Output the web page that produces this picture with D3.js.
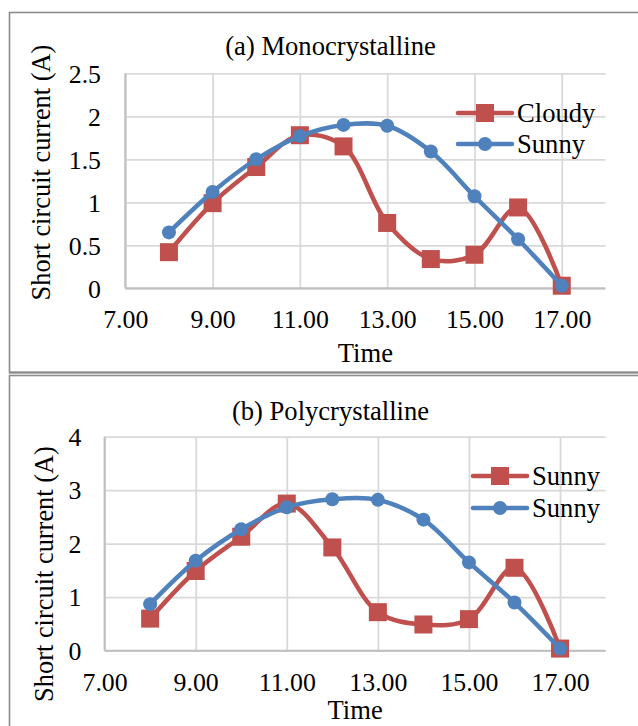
<!DOCTYPE html>
<html>
<head>
<meta charset="utf-8">
<script src="https://cdn.jsdelivr.net/npm/d3@7"></script>
<style>
  html, body { margin: 0; padding: 0; background: #fff; }
  svg { display: block; }
</style>
</head>
<body>
<div id="viewportContainer"></div>
<script>
/* --- データ --- */
const hours = [8, 9, 10, 11, 12, 13, 14, 15, 16, 17];

const monoCloudy = [0.42, 0.99, 1.41, 1.78, 1.65, 0.76, 0.34, 0.39, 0.94, 0.03];
const monoSunny  = [0.65, 1.12, 1.50, 1.77, 1.90, 1.89, 1.59, 1.07, 0.57, 0.03];

const polyRed  = [0.60, 1.49, 2.13, 2.75, 1.93, 0.72, 0.49, 0.59, 1.55, 0.04];
const polyBlue = [0.87, 1.68, 2.27, 2.68, 2.83, 2.82, 2.45, 1.65, 0.90, 0.04];

const xTicks = [7, 9, 11, 13, 15, 17];
const xMax = 18;
const monoYTicks = [0, 0.5, 1, 1.5, 2, 2.5];
const polyYTicks = [0, 1, 2, 3, 4];

const monoLegend = ["Cloudy", "Sunny"];
const polyLegend = ["Sunny", "Sunny"];

/* --- ビューポート --- */
const viewport = {width: 638, height: 726};
const red = "#C0504D", blue = "#4F81BD";
const serif = "'Liberation Serif', 'Times New Roman', serif";

const panels = [
  {
    title: "(a) Monocrystalline",
    border: {y: 12, h: 360},
    plot: {x0: 125.3, x1: 605.4, y0: 288.3, y1: 73.3},
    yTicks: monoYTicks, yLabelRight: 101, yTitleX: 50, yTitleY: 172.5,
    titleY: 55, xLabelY: 328, timeY: 362,
    legendX: 458, legendY: [113, 144], legend: monoLegend,
    series: [monoCloudy, monoSunny]
  },
  {
    title: "(b) Polycrystalline",
    border: {y: 375, h: 400},
    plot: {x0: 104.6, x1: 605.6, y0: 650.7, y1: 436.7},
    yTicks: polyYTicks, yLabelRight: 81.5, yTitleX: 53, yTitleY: 574,
    titleY: 420, xLabelY: 691.5, timeY: 719,
    legendX: 473, legendY: [476, 508], legend: polyLegend,
    series: [polyRed, polyBlue]
  }
];

const svg = d3.select("#viewportContainer").append("svg")
  .attr("width", viewport.width)
  .attr("height", viewport.height);

// 区切り線
svg.append("line")
  .attr("x1", 9).attr("x2", viewport.width)
  .attr("y1", 372.5).attr("y2", 372.5)
  .attr("stroke", "#808080").attr("stroke-width", 2);

panels.forEach(function(p) {

  const g = svg.append("g");

  /*--- 枠 ---*/
  g.append("rect")
    .attr("x", 9.5).attr("y", p.border.y + 0.5)
    .attr("width", 700).attr("height", p.border.h)
    .attr("fill", "none")
    .attr("stroke", "#8c8c8c").attr("stroke-width", 1.6);

  /*--- スケール ---*/
  const yMax = d3.max(p.yTicks);
  const xScale = d3.scaleLinear().domain([7, xMax]).range([p.plot.x0, p.plot.x1]);
  const yScale = d3.scaleLinear().domain([0, yMax]).range([p.plot.y0, p.plot.y1]);

  /*--- グリッド ---*/
  const yAxis = d3.axisLeft(yScale)
    .tickValues(p.yTicks)
    .tickSize(-(p.plot.x1 - p.plot.x0))
    .tickPadding(p.plot.x0 - p.yLabelRight)
    .tickFormat(d3.format("~g"));

  const yg = g.append("g")
    .attr("transform", "translate(" + p.plot.x0 + ",0)")
    .call(yAxis);
  yg.select(".domain").remove();
  yg.selectAll(".tick line").attr("stroke", "#D9D9D9").attr("stroke-width", 1.8);
  yg.selectAll(".tick text")
    .attr("dy", "0.34em")
    .attr("fill", "#000")
    .style("font-family", serif)
    .style("font-size", "25.8px");

  const xAxis = d3.axisBottom(xScale)
    .tickValues(xTicks)
    .tickSize(-(p.plot.y0 - p.plot.y1))
    .tickFormat(d3.format(".2f"));

  const xg = g.append("g")
    .attr("transform", "translate(0," + p.plot.y0 + ")")
    .call(xAxis);
  xg.select(".domain").remove();
  xg.selectAll(".tick line").attr("stroke", "#D9D9D9").attr("stroke-width", 1.8);
  xg.selectAll(".tick text")
    .attr("y", p.xLabelY - p.plot.y0)
    .attr("dy", null)
    .attr("fill", "#000")
    .style("font-family", serif)
    .style("font-size", "25.8px");

  /*--- 軸線 ---*/
  g.append("line")
    .attr("x1", p.plot.x0).attr("x2", p.plot.x1)
    .attr("y1", p.plot.y0).attr("y2", p.plot.y0)
    .attr("stroke", "#BFBFBF").attr("stroke-width", 2);
  g.append("line")
    .attr("x1", p.plot.x0).attr("x2", p.plot.x0)
    .attr("y1", p.plot.y0).attr("y2", p.plot.y1)
    .attr("stroke", "#BFBFBF").attr("stroke-width", 2);

  /*--- ラベル ---*/
  g.append("text")
    .attr("x", 330.5).attr("y", p.titleY)
    .attr("text-anchor", "middle")
    .style("font-family", serif)
    .style("font-size", "26.6px")
    .text(p.title);

  g.append("text")
    .attr("x", (p.plot.x0 + p.plot.x1) / 2).attr("y", p.timeY)
    .attr("text-anchor", "middle")
    .style("font-family", serif)
    .style("font-size", "26.6px")
    .text("Time");

  g.append("text")
    .attr("transform", "translate(" + p.yTitleX + "," + p.yTitleY + ") rotate(-90)")
    .attr("text-anchor", "middle")
    .style("font-family", serif)
    .style("font-size", "26.4px")
    .text("Short circuit current (A)");

  /*--- 系列 ---*/
  const line = d3.line()
    .x(function(d) { return xScale(d[0]); })
    .y(function(d) { return yScale(d[1]); })
    .curve(d3.curveCatmullRom.alpha(0.5));

  const colors = [red, blue];

  p.series.forEach(function(values, si) {
    const pts = hours.map(function(h, i) { return [h, values[i]]; });
    const sg = g.append("g");

    sg.append("path")
      .datum(pts)
      .attr("d", line)
      .attr("fill", "none")
      .attr("stroke", colors[si])
      .attr("stroke-width", 4.5)
      .attr("stroke-linejoin", "round")
      .attr("stroke-linecap", "round");

    if (si === 0) {
      sg.selectAll("rect.mk").data(pts).enter().append("rect")
        .attr("class", "mk")
        .attr("x", function(d) { return xScale(d[0]) - 9; })
        .attr("y", function(d) { return yScale(d[1]) - 9; })
        .attr("width", 18).attr("height", 18)
        .attr("fill", colors[si]);
    } else {
      sg.selectAll("circle.mk").data(pts).enter().append("circle")
        .attr("class", "mk")
        .attr("cx", function(d) { return xScale(d[0]); })
        .attr("cy", function(d) { return yScale(d[1]); })
        .attr("r", 7)
        .attr("fill", colors[si]);
    }
  });

  /*--- 凡例 ---*/
  p.legend.forEach(function(name, i) {
    const ly = p.legendY[i];
    const lg = g.append("g");
    lg.append("line")
      .attr("x1", p.legendX).attr("x2", p.legendX + 54)
      .attr("y1", ly).attr("y2", ly)
      .attr("stroke", colors[i]).attr("stroke-width", 4.5)
      .attr("stroke-linecap", "round");
    if (i === 0) {
      lg.append("rect")
        .attr("x", p.legendX + 27 - 9).attr("y", ly - 9)
        .attr("width", 18).attr("height", 18)
        .attr("fill", colors[i]);
    } else {
      lg.append("circle")
        .attr("cx", p.legendX + 27).attr("cy", ly)
        .attr("r", 7)
        .attr("fill", colors[i]);
    }
    lg.append("text")
      .attr("x", p.legendX + 59).attr("y", ly)
      .attr("dy", "0.34em")
      .style("font-family", serif)
      .style("font-size", "26.6px")
      .text(name);
  });
});
</script>
</body>
</html>
